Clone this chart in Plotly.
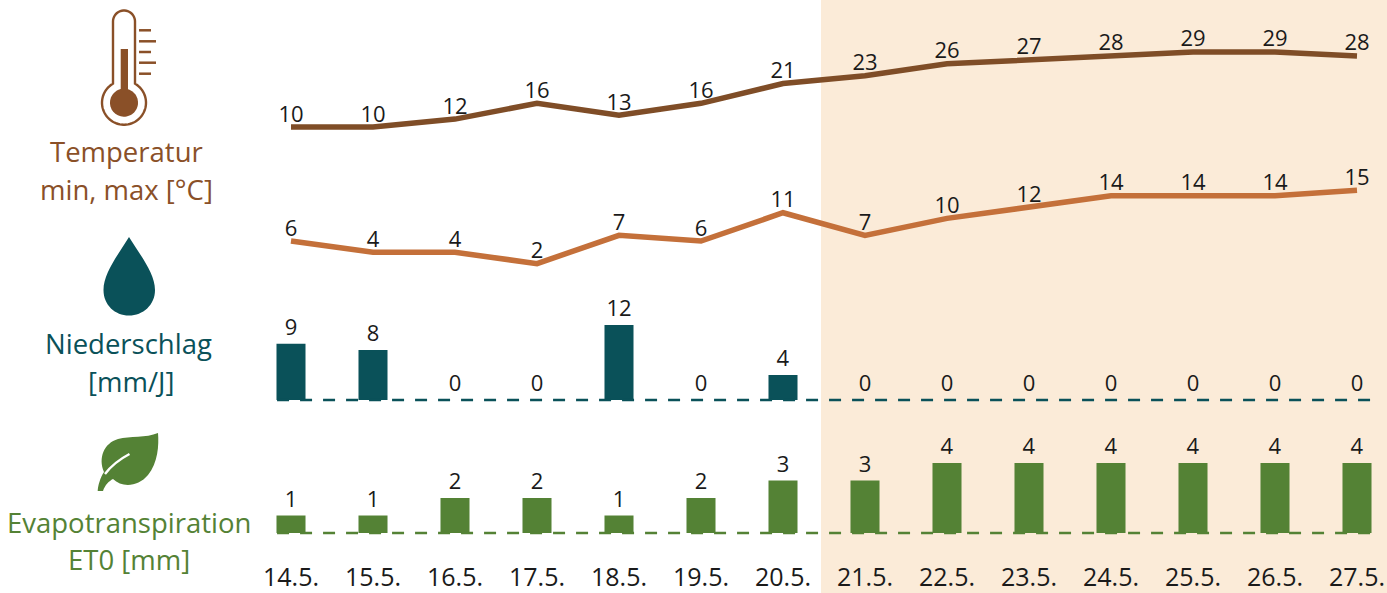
import numpy as np
import plotly.graph_objects as go

dates = ["14.5.", "15.5.", "16.5.", "17.5.", "18.5.", "19.5.", "20.5.",
         "21.5.", "22.5.", "23.5.", "24.5.", "25.5.", "26.5.", "27.5."]
temp_max = [10, 10, 12, 16, 13, 16, 21, 23, 26, 27, 28, 29, 29, 28]
temp_min = [6, 4, 4, 2, 7, 6, 11, 7, 10, 12, 14, 14, 14, 15]
precip = [9, 8, 0, 0, 12, 0, 4, 0, 0, 0, 0, 0, 0, 0]
et0 = [1, 1, 2, 2, 1, 2, 3, 3, 4, 4, 4, 4, 4, 4]

W, H, MB = 1387, 593, 33
PH = H - MB
FONT = "Open Sans"
BROWN, ORANGE, TEAL, GREEN = "#7f4d27", "#c4703a", "#0a5159", "#548235"
TXT_BROWN = "#8a5028"
INK = "#1a1a1a"
LBL = 22
idx = list(range(len(dates)))


def yrange(zero_px, per_unit):
    return [(zero_px - PH) / per_unit, zero_px / per_unit]


def arc(cx, cy, r, a0, a1, n=48):
    t = np.radians(np.linspace(a0, a1, n))
    return [(cx + r * np.cos(v), cy + r * np.sin(v)) for v in t]


def poly(pts, close=True):
    s = "M" + " L".join(f"{x:.2f},{y:.2f}" for x, y in pts)
    return s + (" Z" if close else "")


fig = go.Figure()
fig.add_trace(go.Scatter(x=idx, y=temp_max, yaxis="y", mode="lines+text", text=temp_max,
                         textposition="top center", line=dict(color=BROWN, width=5.5),
                         textfont=dict(family=FONT, size=LBL, color=INK), cliponaxis=False))
fig.add_trace(go.Scatter(x=idx, y=temp_min, yaxis="y2", mode="lines+text", text=temp_min,
                         textposition="top center", line=dict(color=ORANGE, width=5.5),
                         textfont=dict(family=FONT, size=LBL, color=INK), cliponaxis=False))
fig.add_trace(go.Bar(x=idx, y=precip, yaxis="y3", width=0.354, marker=dict(color=TEAL, line_width=0),
                     text=precip, textposition="outside", textangle=0, cliponaxis=False,
                     textfont=dict(family=FONT, size=LBL, color=INK)))
fig.add_trace(go.Bar(x=idx, y=et0, yaxis="y4", width=0.354, marker=dict(color=GREEN, line_width=0),
                     text=et0, textposition="outside", textangle=0, cliponaxis=False,
                     textfont=dict(family=FONT, size=LBL, color=INK)))
# helper trace keeps the pixel overlay axes alive for the icons
fig.add_trace(go.Scatter(x=[0], y=[0], xaxis="x2", yaxis="y5", mode="markers",
                         marker=dict(opacity=0), hoverinfo="skip"))

shapes = [
    dict(type="rect", xref="paper", yref="paper", x0=821 / W, x1=1, y0=-MB / PH, y1=1,
         fillcolor="#fbebd8", line_width=0, layer="below"),
    dict(type="line", xref="x", yref="y3", x0=-0.17, x1=13.2, y0=0, y1=0,
         line=dict(color=TEAL, width=2.5, dash="12px,11px")),
    dict(type="line", xref="x", yref="y4", x0=-0.17, x1=13.2, y0=0, y1=0,
         line=dict(color=GREEN, width=2.5, dash="12px,11px")),
]


def icon(path, fill=None, color=None, width=0):
    shapes.append(dict(type="path", xref="x2", yref="y5", path=path,
                       fillcolor=fill if fill else "rgba(0,0,0,0)",
                       line=dict(color=color if color else "rgba(0,0,0,0)", width=width)))


# Thermometer
tube = [(113, 21.5)] + arc(124, 21.5, 11, 180, 360, 24) + [(135, 83.6)] + arc(124, 102.7, 22, -60, 240, 72)
icon(poly(tube), None, TXT_BROWN, 2.4)
icon(poly(arc(124, 102.7, 14, 0, 360, 60)), TXT_BROWN)
icon("M120.7,49 L128,49 L128,95 L120.7,95 Z", TXT_BROWN)
for yy, x1 in [(30.3, 151), (41.3, 156), (52, 151), (62.7, 156), (73.7, 151)]:
    icon(f"M139,{yy} L{x1},{yy}", None, TXT_BROWN, 2.5)
# Drop
icon("M129,237 C118,255 103.5,273 103.5,290 C103.5,305 115,315.5 129,315.5 "
     "C143,315.5 155,305 155,290 C155,273 140,255 129,237 Z", TEAL)
# Leaf
icon("M158,433 C146,438 130,436 118,439 C104,443 98,458 104,472 C100,478 98,486 97.7,491 "
     "L103,491 C105,485 109,481 113,479 C122,488 138,487 148,475 C158,463 159,445 158,433 Z", GREEN)
icon("M129.5,454 C120,459 111,466 105,474", None, "#ffffff", 2.4)

labels = [
    ("Temperatur", 126, 151.5, TXT_BROWN), ("min, max [°C]", 126, 189.5, TXT_BROWN),
    ("Niederschlag", 128, 343.5, TEAL), ("[mm/J]", 131, 381.5, TEAL),
    ("Evapotranspiration", 129, 522.5, GREEN), ("ET0 [mm]", 129, 559.5, GREEN),
]
annotations = [dict(text=t, xref="paper", yref="paper", x=x / W, y=1 - y / PH, showarrow=False,
                    xanchor="center", yanchor="middle",
                    font=dict(family=FONT, size=27.5, color=c)) for t, x, y, c in labels]

hidden = dict(visible=False, fixedrange=True, overlaying="y", showgrid=False, zeroline=False)
fig.update_layout(
    width=W, height=H, margin=dict(l=0, r=0, t=0, b=MB, autoexpand=False), showlegend=False,
    paper_bgcolor="white", plot_bgcolor="rgba(0,0,0,0)", barmode="overlay",
    shapes=shapes, annotations=annotations,
    xaxis=dict(range=[-291 / 82, (W - 291) / 82], tickmode="array", tickvals=idx, ticktext=dates,
               showgrid=False, zeroline=False, showline=False, ticks="", tickangle=0, automargin=False,
               tickfont=dict(family=FONT, size=25, color=INK)),
    xaxis2=dict(range=[0, W], visible=False, overlaying="x", fixedrange=True),
    yaxis=dict(range=yrange(166.5, 3.95), visible=False, showgrid=False, zeroline=False),
    yaxis2=dict(range=yrange(274.9, 5.65), **hidden),
    yaxis3=dict(range=yrange(400, 6.25), **hidden),
    yaxis4=dict(range=yrange(533, 17.5), **hidden),
    yaxis5=dict(range=[PH, 0], **hidden),
)
fig.write_html("out.html", config=dict(displayModeBar=False), post_script="document.body.style.margin='0';")
